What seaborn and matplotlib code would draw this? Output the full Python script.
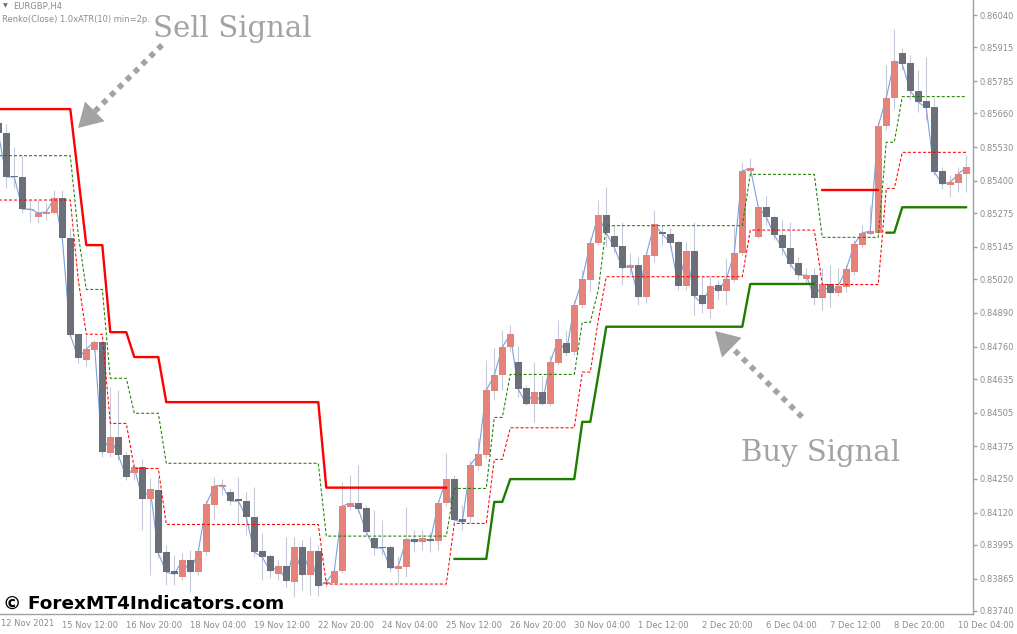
import numpy as np
import pandas as pd
import matplotlib
matplotlib.use("Agg")
import matplotlib.pyplot as plt
import seaborn as sns

# EURGBP H4 candles (one value per bar, left to right)
opens = [0.85623, 0.85585, 0.85419, 0.85415, 0.85287, 0.85260, 0.85272, 0.85276, 0.85334, 0.85179,
         0.84809, 0.84708, 0.84747, 0.84778, 0.84349, 0.84411, 0.84342, 0.84272, 0.84295, 0.84172,
         0.84207, 0.83967, 0.83894, 0.83871, 0.83936, 0.83890, 0.83967, 0.84149, 0.84218, 0.84199,
         0.84172, 0.84164, 0.84102, 0.83971, 0.83952, 0.83882, 0.83913, 0.83851, 0.83986, 0.83878,
         0.83971, 0.83844, 0.83848, 0.83894, 0.84141, 0.84156, 0.84137, 0.84021, 0.83986, 0.83986,
         0.83902, 0.83909, 0.84017, 0.84006, 0.84017, 0.84010, 0.84156, 0.84249, 0.84095, 0.84102,
         0.84299, 0.84342, 0.84589, 0.84650, 0.84758, 0.84701, 0.84600, 0.84538, 0.84585, 0.84538,
         0.84697, 0.84774, 0.84739, 0.84921, 0.85017, 0.85160, 0.85268, 0.85187, 0.85148, 0.85063,
         0.85075, 0.84951, 0.85110, 0.85202, 0.85195, 0.85164, 0.84994, 0.85129, 0.84959, 0.84905,
         0.84998, 0.84975, 0.85017, 0.85121, 0.85438, 0.85183, 0.85299, 0.85260, 0.85191, 0.85141,
         0.85083, 0.85021, 0.85036, 0.84948, 0.85002, 0.84967, 0.84990, 0.85048, 0.85152, 0.85195,
         0.85199, 0.85612, 0.85720, 0.85893, 0.85855, 0.85747, 0.85708, 0.85685, 0.85438, 0.85384,
         0.85392, 0.85426]
highs = [0.85639, 0.85619, 0.85530, 0.85500, 0.85326, 0.85326, 0.85314, 0.85365, 0.85365, 0.85218,
         0.84812, 0.84805, 0.84786, 0.84786, 0.84604, 0.84592, 0.84353, 0.84311, 0.84326, 0.84253,
         0.84257, 0.83994, 0.83956, 0.83963, 0.83975, 0.83983, 0.84168, 0.84257, 0.84249, 0.84214,
         0.84257, 0.84199, 0.84218, 0.84041, 0.83959, 0.83936, 0.84025, 0.84025, 0.84014, 0.84025,
         0.83994, 0.83867, 0.83905, 0.84237, 0.84264, 0.84303, 0.84149, 0.84129, 0.84091, 0.83994,
         0.83952, 0.84141, 0.84052, 0.84052, 0.84044, 0.84168, 0.84349, 0.84264, 0.84149, 0.84322,
         0.84407, 0.84708, 0.84755, 0.84824, 0.84843, 0.84762, 0.84612, 0.84701, 0.84646, 0.84728,
         0.84863, 0.84824, 0.84940, 0.85056, 0.85179, 0.85326, 0.85376, 0.85229, 0.85241, 0.85121,
         0.85106, 0.85114, 0.85287, 0.85229, 0.85218, 0.85172, 0.85164, 0.85241, 0.85029, 0.85029,
         0.85017, 0.85102, 0.85222, 0.85473, 0.85488, 0.85307, 0.85341, 0.85268, 0.85249, 0.85241,
         0.85106, 0.85063, 0.85063, 0.85063, 0.85075, 0.85063, 0.85075, 0.85172, 0.85229, 0.85307,
         0.85627, 0.85847, 0.85986, 0.85913, 0.85886, 0.85828, 0.85878, 0.85720, 0.85453, 0.85422,
         0.85453, 0.85500]
lows = [0.85581, 0.85372, 0.85372, 0.85276, 0.85241, 0.85237, 0.85249, 0.85272, 0.85160, 0.84797,
        0.84697, 0.84685, 0.84743, 0.84334, 0.84334, 0.84322, 0.84245, 0.84245, 0.84052, 0.83878,
        0.83944, 0.83840, 0.83840, 0.83859, 0.83813, 0.83878, 0.83952, 0.84091, 0.84187, 0.84149,
        0.84079, 0.84033, 0.83948, 0.83859, 0.83867, 0.83859, 0.83832, 0.83794, 0.83821, 0.83801,
        0.83797, 0.83832, 0.83840, 0.83886, 0.84129, 0.84122, 0.84033, 0.83956, 0.83956, 0.83890,
        0.83848, 0.83871, 0.83967, 0.83975, 0.83967, 0.83975, 0.84145, 0.84071, 0.84052, 0.84079,
        0.84284, 0.84330, 0.84554, 0.84592, 0.84739, 0.84566, 0.84535, 0.84469, 0.84535, 0.84531,
        0.84689, 0.84724, 0.84728, 0.84909, 0.84971, 0.85152, 0.85144, 0.85121, 0.84998, 0.85036,
        0.84921, 0.84928, 0.85087, 0.85152, 0.85141, 0.84979, 0.84979, 0.84882, 0.84890, 0.84870,
        0.84940, 0.84921, 0.85009, 0.85114, 0.85422, 0.85179, 0.85229, 0.85172, 0.85114, 0.85063,
        0.85017, 0.85006, 0.84921, 0.84901, 0.84913, 0.84955, 0.84971, 0.85036, 0.85141, 0.85191,
        0.85191, 0.85596, 0.85677, 0.85828, 0.85712, 0.85666, 0.85635, 0.85422, 0.85368, 0.85338,
        0.85357, 0.85357]
closes = [0.85585, 0.85415, 0.85415, 0.85291, 0.85291, 0.85276, 0.85280, 0.85334, 0.85179, 0.84805,
          0.84716, 0.84751, 0.84778, 0.84353, 0.84411, 0.84342, 0.84257, 0.84295, 0.84172, 0.84210,
          0.83963, 0.83890, 0.83882, 0.83936, 0.83890, 0.83971, 0.84152, 0.84222, 0.84226, 0.84164,
          0.84164, 0.84102, 0.83967, 0.83948, 0.83894, 0.83913, 0.83855, 0.83986, 0.83878, 0.83971,
          0.83836, 0.83851, 0.83894, 0.84145, 0.84156, 0.84133, 0.84044, 0.83983, 0.83983, 0.83905,
          0.83913, 0.84017, 0.84006, 0.84021, 0.84010, 0.84156, 0.84249, 0.84091, 0.84083, 0.84303,
          0.84345, 0.84592, 0.84650, 0.84758, 0.84809, 0.84596, 0.84538, 0.84585, 0.84538, 0.84701,
          0.84789, 0.84735, 0.84921, 0.85021, 0.85160, 0.85268, 0.85199, 0.85144, 0.85063, 0.85075,
          0.84951, 0.85114, 0.85233, 0.85195, 0.85160, 0.84994, 0.85129, 0.84955, 0.84924, 0.84994,
          0.84975, 0.85021, 0.85121, 0.85438, 0.85449, 0.85299, 0.85260, 0.85191, 0.85141, 0.85079,
          0.85036, 0.85036, 0.84948, 0.85002, 0.84967, 0.84994, 0.85060, 0.85156, 0.85199, 0.85206,
          0.85612, 0.85720, 0.85862, 0.85851, 0.85747, 0.85704, 0.85681, 0.85434, 0.85388, 0.85395,
          0.85426, 0.85453]

# time axis labels, one every 8 bars
date_labels = ["12 Nov 2021", "15 Nov 12:00", "16 Nov 20:00", "18 Nov 04:00", "19 Nov 12:00",
               "22 Nov 20:00", "24 Nov 04:00", "25 Nov 12:00", "26 Nov 20:00", "30 Nov 04:00",
               "1 Dec 12:00", "2 Dec 20:00", "6 Dec 04:00", "7 Dec 12:00", "8 Dec 20:00",
               "10 Dec 04:00"]
price_ticks = [0.86040, 0.85915, 0.85785, 0.85660, 0.85530, 0.85400, 0.85275, 0.85145, 0.85020,
               0.84890, 0.84760, 0.84635, 0.84505, 0.84375, 0.84250, 0.84120, 0.83995, 0.83865,
               0.83740]

# indicator buffers as step levels: value and how many bars it holds (nan = not drawn)
band_runs = [10, 1, 3, 3, 4, 20, 16, 5, 2, 9, 2, 1, 18, 9, 8, 2, 9]
upper_band = [0.85497, 0.85191, 0.84981, 0.84638, 0.84503, 0.84310, 0.84029, 0.84213, 0.84487,
              0.84653, 0.84854, 0.84979, 0.85227, 0.85425, 0.85182, 0.85549, 0.85725]
lower_band = [0.85326, 0.85017, 0.84808, 0.84464, 0.84290, 0.84074, 0.83844, 0.84078, 0.84325,
              0.84447, 0.84662, 0.84863, 0.85030, 0.85210, 0.85000, 0.85371, 0.85510]
sell_runs = [10, 1, 3, 3, 4, 20, 16, 46, 8, 11]
sell_line = [0.85677, 0.85415, 0.85152, 0.84816, 0.84720, 0.84546, 0.84216, np.nan, 0.85365, np.nan]
buy_runs = [57, 5, 2, 9, 2, 1, 18, 9, 8, 2, 9]
buy_line = [np.nan, 0.83941, 0.84161, 0.84249, 0.84470, 0.84650, 0.84837, 0.85002, np.nan,
            0.85200, 0.85298]

UP, DOWN, WICK = "#e5837a", "#6d6f78", "#c6c9da"
GREY_TXT = "#8c8c8c"
NOTE = "#a3a3a3"


def step_frame(levels, runs):
    vals = np.repeat(levels, runs)
    df = pd.DataFrame({"bar": np.arange(len(vals)), "price": vals})
    df["seg"] = df["price"].isna().cumsum()
    return df.dropna()


sns.set_style("white")
plt.rcParams["font.family"] = ["DejaVu Sans"]

W, H = 1017, 634
fig = plt.figure(figsize=(W / 100, H / 100), dpi=100, facecolor="white")
ax = fig.add_axes([0, 20 / H, 973 / W, 614 / H])

candles = pd.DataFrame({"open": opens, "high": highs, "low": lows, "close": closes})
candles["bar"] = np.arange(len(candles))
up = candles["close"] > candles["open"]
body_lo = candles[["open", "close"]].min(axis=1)
body_h = (candles["close"] - candles["open"]).abs().clip(lower=0.00005)

ax.vlines(candles["bar"], candles["low"], candles["high"], color=WICK, lw=0.8, zorder=1)
sns.lineplot(data=candles, x="bar", y="close", color="#7ba2dc", lw=0.8, ax=ax, zorder=2)
ax.bar(candles["bar"], body_h, bottom=body_lo, width=0.85,
       color=np.where(up, UP, DOWN), linewidth=0, zorder=3)

dash = (0, (2.9, 1.9))
sns.lineplot(data=step_frame(upper_band, band_runs), x="bar", y="price", units="seg",
             estimator=None, color="#1e7d00", lw=0.75, linestyle=dash, ax=ax, zorder=4)
sns.lineplot(data=step_frame(lower_band, band_runs), x="bar", y="price", units="seg",
             estimator=None, color="#ff0000", lw=0.75, linestyle=dash, ax=ax, zorder=4)
sns.lineplot(data=step_frame(sell_line, sell_runs), x="bar", y="price", units="seg",
             estimator=None, color="#ff0000", lw=1.7, ax=ax, zorder=5)
sns.lineplot(data=step_frame(buy_line, buy_runs), x="bar", y="price", units="seg",
             estimator=None, color="#1e7d00", lw=1.7, ax=ax, zorder=5)

ax.set_xlim(0.2125, 121.84)
ax.set_ylim(0.837284, 0.860979)
ax.set_xlabel("")
ax.set_ylabel("")

for side in ["left", "top"]:
    ax.spines[side].set_visible(False)
for side in ["right", "bottom"]:
    ax.spines[side].set_color("#a0a0a0")
    ax.spines[side].set_linewidth(1)

ax.yaxis.tick_right()
ax.set_yticks(price_ticks)
ax.set_yticklabels([f"{p:.5f}" for p in price_ticks])
ax.set_xticks(np.arange(8, 121, 8))
ax.set_xticklabels(date_labels[1:], ha="left")
ax.tick_params(axis="both", colors="#a0a0a0", labelcolor=GREY_TXT, labelsize=6,
               length=3, width=1, pad=2)
fig.text(1 / W, 1 - 624 / H, date_labels[0], fontsize=6, color=GREY_TXT, va="center")

# header lines
fig.text(3 / W, 1 - 6 / H, "\u25bc", fontsize=4.5, color="#6e6e6e", va="center")
fig.text(13 / W, 1 - 6 / H, "EURGBP,H4", fontsize=6, color=GREY_TXT, va="center")
fig.text(2 / W, 1 - 19 / H, "Renko(Close) 1.0xATR(10) min=2p.", fontsize=6,
         color=GREY_TXT, va="center")

# watermark
fig.text(3 / W, 1 - 604 / H, "\u00a9 ForexMT4Indicators.com", fontsize=13.3,
         fontweight="bold", color="black", va="center")

# signal notes
fig.text(153 / W, 1 - 37 / H, "Sell Signal", fontsize=21, family="DejaVu Serif",
         color=NOTE, va="baseline")
fig.text(741 / W, 1 - 461 / H, "Buy Signal", fontsize=21, family="DejaVu Serif",
         color=NOTE, va="baseline")


def dotted_arrow(tail, tip):
    tail = np.array([tail[0], H - tail[1]], float)
    tip = np.array([tip[0], H - tip[1]], float)
    u = (tip - tail) / np.linalg.norm(tip - tail)
    neck = tip - 22 * u
    ax.annotate("", xy=neck, xytext=tail, xycoords="figure pixels", textcoords="figure pixels",
                arrowprops=dict(arrowstyle="-", lw=4, ls=(0, (1.0, 1.0)), color=NOTE,
                                capstyle="butt", shrinkA=0, shrinkB=0))
    ax.annotate("", xy=tip, xytext=tip - 24 * u, xycoords="figure pixels",
                textcoords="figure pixels",
                arrowprops=dict(arrowstyle="-|>,head_length=0.85,head_width=0.5",
                                mutation_scale=20, lw=0, color=NOTE, shrinkA=0, shrinkB=0))


dotted_arrow((162, 45), (78, 128))
dotted_arrow((802, 417), (715, 331))

fig.savefig("out.png", dpi=100, facecolor="white")
